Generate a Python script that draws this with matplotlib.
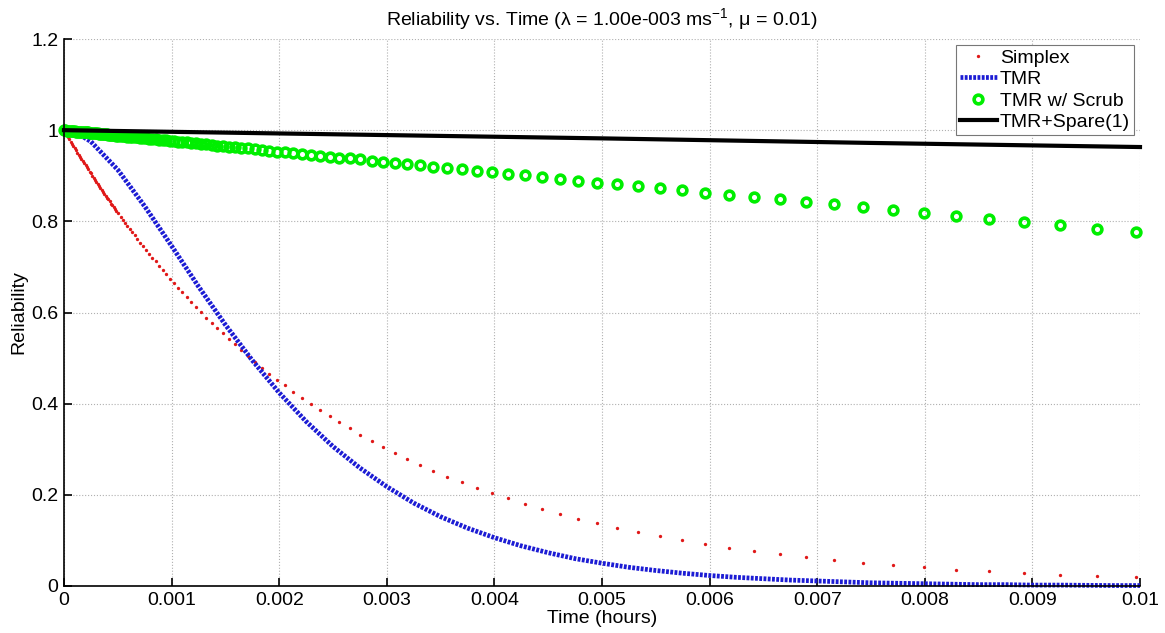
import numpy as np
import matplotlib
matplotlib.use('Agg')
import matplotlib.pyplot as plt
from matplotlib.ticker import FormatStrFormatter

plt.rcParams['font.family'] = ['Liberation Sans', 'DejaVu Sans']
plt.rcParams['mathtext.fontset'] = 'custom'
plt.rcParams['mathtext.rm'] = 'Liberation Sans'

# time samples shared by Simplex and TMR w/ Scrub, in units of 1e-3 hours
t_ms = [0, 0.0125, 0.025, 0.0375, 0.05, 0.0625, 0.075, 0.0875, 0.1, 0.1125,
        0.125, 0.1375, 0.15, 0.1625, 0.175, 0.1875, 0.2, 0.2125, 0.225, 0.2375,
        0.25, 0.2625, 0.275, 0.2875, 0.3, 0.3125, 0.325, 0.3375, 0.35, 0.3625,
        0.375, 0.3875, 0.4, 0.4125, 0.425, 0.4375, 0.45, 0.4625, 0.475, 0.4875, 0.5,
        0.528, 0.548, 0.568, 0.589, 0.611, 0.634, 0.658, 0.683, 0.708, 0.735,
        0.762, 0.791, 0.820, 0.851, 0.883, 0.916, 0.950, 0.986, 1.022, 1.061,
        1.100, 1.142, 1.184, 1.229, 1.274, 1.322, 1.372, 1.423, 1.476, 1.531,
        1.589, 1.648, 1.710, 1.774, 1.840, 1.909, 1.980, 2.054, 2.131, 2.211,
        2.293, 2.379, 2.468, 2.560, 2.656, 2.755, 2.858, 2.965, 3.076, 3.191,
        3.311, 3.434, 3.563, 3.696, 3.834, 3.978, 4.127, 4.281, 4.441, 4.607,
        4.779, 4.958, 5.144, 5.336, 5.536, 5.743, 5.957, 6.180, 6.411, 6.651,
        6.900, 7.158, 7.426, 7.703, 7.991, 8.290, 8.600, 8.922, 9.256, 9.602, 9.961]

simplex = [1.000, 0.995, 0.990, 0.985, 0.980, 0.975, 0.970, 0.966, 0.961, 0.956,
           0.951, 0.946, 0.942, 0.937, 0.932, 0.928, 0.923, 0.919, 0.914, 0.909,
           0.905, 0.900, 0.896, 0.891, 0.887, 0.882, 0.878, 0.874, 0.869, 0.865,
           0.861, 0.856, 0.852, 0.848, 0.844, 0.839, 0.835, 0.831, 0.827, 0.823, 0.819,
           0.810, 0.803, 0.797, 0.790, 0.783, 0.776, 0.769, 0.761, 0.753, 0.745,
           0.737, 0.729, 0.720, 0.712, 0.703, 0.693, 0.684, 0.674, 0.664, 0.654,
           0.644, 0.633, 0.623, 0.612, 0.601, 0.589, 0.578, 0.566, 0.554, 0.542,
           0.530, 0.517, 0.505, 0.492, 0.479, 0.466, 0.453, 0.440, 0.426, 0.413,
           0.400, 0.386, 0.373, 0.359, 0.346, 0.332, 0.319, 0.305, 0.292, 0.279,
           0.266, 0.253, 0.240, 0.228, 0.216, 0.204, 0.192, 0.180, 0.169, 0.158,
           0.148, 0.138, 0.128, 0.118, 0.109, 0.101, 0.092, 0.084, 0.077, 0.070,
           0.063, 0.057, 0.051, 0.046, 0.041, 0.036, 0.032, 0.028, 0.025, 0.021, 0.019]

scrub = [1.000, 1.000, 0.999, 0.999, 0.999, 0.998, 0.998, 0.998, 0.998, 0.997,
         0.997, 0.997, 0.996, 0.996, 0.996, 0.996, 0.995, 0.995, 0.995, 0.994,
         0.994, 0.994, 0.994, 0.993, 0.993, 0.993, 0.992, 0.992, 0.992, 0.991,
         0.991, 0.991, 0.991, 0.990, 0.990, 0.990, 0.989, 0.989, 0.989, 0.988, 0.988,
         0.987, 0.987, 0.987, 0.986, 0.986, 0.985, 0.984, 0.984, 0.983, 0.983,
         0.982, 0.981, 0.981, 0.980, 0.979, 0.978, 0.978, 0.977, 0.976, 0.975,
         0.974, 0.973, 0.972, 0.971, 0.970, 0.969, 0.968, 0.966, 0.965, 0.964,
         0.963, 0.961, 0.960, 0.958, 0.957, 0.955, 0.953, 0.952, 0.950, 0.948,
         0.946, 0.944, 0.942, 0.940, 0.938, 0.936, 0.933, 0.931, 0.928, 0.925,
         0.923, 0.920, 0.917, 0.914, 0.911, 0.908, 0.904, 0.901, 0.897, 0.893,
         0.889, 0.885, 0.881, 0.877, 0.873, 0.868, 0.863, 0.858, 0.853, 0.848,
         0.842, 0.837, 0.831, 0.825, 0.819, 0.812, 0.805, 0.799, 0.791, 0.784, 0.777]

# TMR curve (drawn as a thick dotted line)
tmr_t_ms = [0, 0.125, 0.25, 0.5, 0.75, 1.0, 1.25, 1.5, 1.75, 2.0, 2.25, 2.5,
            2.75, 3.0, 3.25, 3.5, 3.75, 4.0, 4.25, 4.5, 4.75, 5.0, 5.25, 5.5,
            5.75, 6.0, 6.25, 6.5, 6.75, 7.0, 7.25, 7.5, 7.75, 8.0, 8.25, 8.5,
            8.75, 9.0, 9.25, 9.5, 9.75, 10.0]
tmr = [1.000, 0.993, 0.975, 0.913, 0.833, 0.746, 0.657, 0.573, 0.495, 0.424,
       0.361, 0.306, 0.259, 0.218, 0.182, 0.152, 0.127, 0.106, 0.088, 0.073,
       0.060, 0.050, 0.041, 0.034, 0.028, 0.023, 0.019, 0.016, 0.013, 0.011,
       0.009, 0.007, 0.006, 0.005, 0.004, 0.003, 0.003, 0.002, 0.002, 0.0015,
       0.001, 0.001]

spare_t_ms = [0, 2.5, 5.0, 7.5, 10.0]
spare = [1.000, 0.991, 0.982, 0.972, 0.963]

x_ticks = [0, 0.001, 0.002, 0.003, 0.004, 0.005, 0.006, 0.007, 0.008, 0.009, 0.01]
y_ticks = [0, 0.2, 0.4, 0.6, 0.8, 1.0, 1.2]

t = np.array(t_ms) * 1e-3
tmr_t = np.array(tmr_t_ms) * 1e-3
spare_t = np.array(spare_t_ms) * 1e-3

fig = plt.figure(figsize=(11.65, 6.33), dpi=100)
ax = fig.add_axes([64/1165, 1 - 586/633, (1140 - 64)/1165, (586 - 39)/633])

ax.plot(t, simplex, 'o', color='#e01818', ms=2.4, mew=0, label='Simplex', clip_on=False)
ax.plot(tmr_t, tmr, color='#1c1cd4', lw=3.4, linestyle=(0, (0.6, 0.3)),
        dash_capstyle='butt', label='TMR', clip_on=False)
ax.plot(t, scrub, 'o', mfc='none', mec='#00ee00', ms=6.3, mew=2.6,
        label='TMR w/ Scrub', clip_on=False)
ax.plot(spare_t, spare, color='k', lw=3, label='TMR+Spare(1)', clip_on=False)

ax.set_xlim(0, 0.01)
ax.set_ylim(0, 1.2)
ax.set_xticks(x_ticks)
ax.set_yticks(y_ticks)
ax.xaxis.set_major_formatter(FormatStrFormatter('%g'))
ax.yaxis.set_major_formatter(FormatStrFormatter('%g'))
ax.tick_params(direction='in', length=6, width=1.2, labelsize=14, pad=4)
ax.spines['top'].set_visible(False)
ax.spines['right'].set_visible(False)
ax.spines['left'].set_linewidth(1.2)
ax.spines['bottom'].set_linewidth(1.2)
ax.grid(True, linestyle=':', color='#b0b0b0', lw=0.8)
ax.set_axisbelow(True)

ax.set_xlabel('Time (hours)', fontsize=14, labelpad=1)
ax.set_ylabel('Reliability', fontsize=14, labelpad=3)
ax.set_title(r'Reliability vs. Time (λ = 1.00e-003 ms$^{-1}$, μ = 0.01)', fontsize=14, pad=9)

leg = ax.legend(loc='upper right', fancybox=False, edgecolor='#777777', framealpha=1,
                fontsize=14, borderaxespad=0.3, handlelength=1.9, handletextpad=0.15,
                labelspacing=0.2, borderpad=0.22)
leg.get_frame().set_linewidth(0.8)

fig.savefig('out.png', dpi=100)
